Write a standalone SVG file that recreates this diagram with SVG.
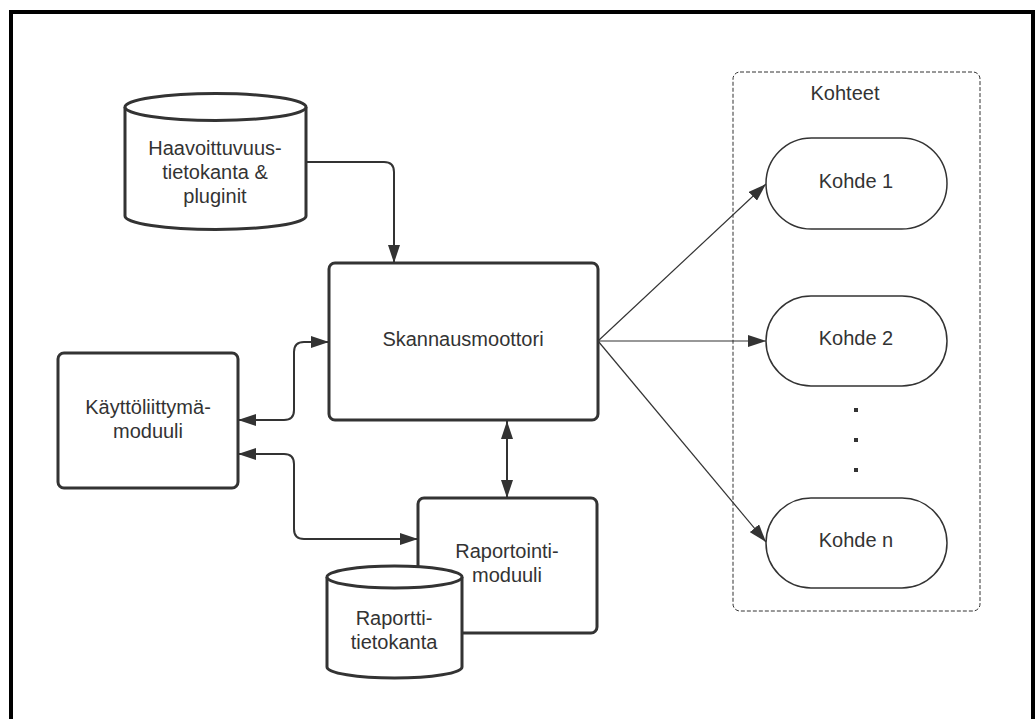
<svg xmlns="http://www.w3.org/2000/svg" width="1036" height="719" viewBox="0 0 1036 719">
  <style>
    .box { fill: #ffffff; stroke: #333333; stroke-width: 3; }
    .pill { fill: #ffffff; stroke: #333333; stroke-width: 1.5; }
    .lbl { font-family: "Liberation Sans", Arial, sans-serif; font-size: 20px; fill: #333333; text-anchor: middle; }
    .thick { fill: none; stroke: #333333; stroke-width: 2; }
    .thin { fill: none; stroke: #333333; stroke-width: 1.2; }
  </style>
  <defs>
    <marker id="arrow" markerUnits="userSpaceOnUse" markerWidth="18" markerHeight="12" refX="18" refY="6" orient="auto-start-reverse" viewBox="0 0 18 12">
      <path d="M0,0 L18,6 L0,12 Z" fill="#333333"/>
    </marker>
  </defs>

  <rect width="1036" height="719" fill="#ffffff"/>
  <!-- outer frame -->
  <rect x="11" y="12" width="1022" height="800" fill="none" stroke="#000000" stroke-width="4"/>

  <!-- target group container -->
  <g id="kohteet">
    <rect x="733" y="72" width="247" height="539" rx="7" fill="none" stroke="#333333" stroke-width="1" stroke-dasharray="4 2"/>
    <text class="lbl" x="845" y="100">Kohteet</text>
  </g>

  <g id="connectors">
    <path class="thick" d="M306,162 L384,162 Q394,162 394,172 L394,263" marker-end="url(#arrow)"/>
    <path class="thick" d="M238,420 L284,420 Q294,420 294,410 L294,352 Q294,342 304,342 L329,342" marker-start="url(#arrow)" marker-end="url(#arrow)"/>
    <path class="thick" d="M238,454 L284,454 Q294,454 294,464 L294,529 Q294,539 304,539 L418,539" marker-start="url(#arrow)" marker-end="url(#arrow)"/>
    <path class="thick" d="M507,421 L507,498" marker-start="url(#arrow)" marker-end="url(#arrow)"/>
    <path class="thin" d="M598,341 L766,184" marker-end="url(#arrow)"/>
    <path class="thin" d="M598,341 L766,341" marker-end="url(#arrow)"/>
    <path class="thin" d="M598,341 L766,542" marker-end="url(#arrow)"/>
  </g>

  <g id="haavoittuvuustietokanta">
    <path class="box" d="M125,107 A90.5,13.5 0 0 1 306,107 L306,216 A90.5,13.5 0 0 1 125,216 Z"/>
    <path class="box" fill="none" d="M125,107 A90.5,13.5 0 0 0 306,107"/>
    <text class="lbl" x="215" y="155">Haavoittuvuus-</text>
    <text class="lbl" x="215" y="179">tietokanta &amp;</text>
    <text class="lbl" x="215" y="203">pluginit</text>
  </g>

  <g id="skannausmoottori">
    <rect class="box" x="329" y="263" width="269" height="157" rx="6"/>
    <text class="lbl" x="463" y="346">Skannausmoottori</text>
  </g>

  <g id="kayttoliittyma">
    <rect class="box" x="58" y="353" width="180" height="135" rx="6"/>
    <text class="lbl" x="148" y="414">Käyttöliittymä-</text>
    <text class="lbl" x="148" y="438">moduuli</text>
  </g>

  <g id="raportointi">
    <rect class="box" x="418" y="498" width="179" height="135" rx="6"/>
    <text class="lbl" x="507" y="558">Raportointi-</text>
    <text class="lbl" x="507" y="582">moduuli</text>
  </g>

  <g id="raporttitietokanta">
    <path class="box" d="M327,577 A67.5,11 0 0 1 462,577 L462,667 A67.5,11 0 0 1 327,667 Z"/>
    <path class="box" fill="none" d="M327,577 A67.5,11 0 0 0 462,577"/>
    <text class="lbl" x="394" y="625">Raportti-</text>
    <text class="lbl" x="394" y="649">tietokanta</text>
  </g>

  <g id="kohde1">
    <rect class="pill" x="766" y="138" width="181" height="91" rx="45.5"/>
    <text class="lbl" x="856" y="188">Kohde 1</text>
  </g>

  <g id="kohde2">
    <rect class="pill" x="766" y="296" width="181" height="90" rx="45"/>
    <text class="lbl" x="856" y="345">Kohde 2</text>
  </g>

  <g id="ellipsis">
    <rect x="854" y="408" width="4" height="4" fill="#333333"/>
    <rect x="854" y="438" width="4" height="4" fill="#333333"/>
    <rect x="854" y="468" width="4" height="4" fill="#333333"/>
  </g>

  <g id="kohden">
    <rect class="pill" x="766" y="498" width="181" height="90" rx="45"/>
    <text class="lbl" x="856" y="547">Kohde n</text>
  </g>
</svg>
